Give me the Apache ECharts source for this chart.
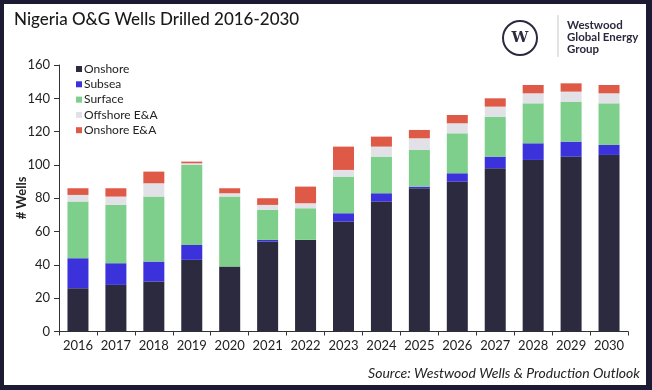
<!DOCTYPE html>
<html>
<head>
<meta charset="utf-8">
<script src="https://cdn.jsdelivr.net/npm/echarts@6/dist/echarts.min.js"></script>
<style>
html,body{margin:0;padding:0;background:#1d1a33;}
#chart{width:652px;height:390px;}
</style>
</head>
<body>
<div id="chart"></div>
<script>
const years = ['2016','2017','2018','2019','2020','2021','2022','2023','2024','2025','2026','2027','2028','2029','2030'];
const onshore    = [26, 28, 30, 43, 39, 54, 55, 66, 78, 86, 90, 98, 103, 105, 106];
const subsea     = [18, 13, 12,  9,  0,  1,  0,  5,  5,  1,  5,  7,  10,   9,   6];
const surface    = [34, 35, 39, 48, 42, 18, 19, 22, 22, 22, 24, 24,  24,  24,  25];
const offshoreEA = [ 4,  5,  8,  1,  2,  3,  3,  4,  6,  7,  6,  6,   6,   6,   6];
const onshoreEA  = [ 4,  5,  7,  1,  3,  4, 10, 14,  6,  5,  5,  5,   5,   5,   5];
const yTicks = [0, 20, 40, 60, 80, 100, 120, 140, 160];

const seriesDefs = [
  {name:'Onshore', data:onshore, color:'#2b2a3f'},
  {name:'Subsea', data:subsea, color:'#3c32dc'},
  {name:'Surface', data:surface, color:'#7ecf8b'},
  {name:'Offshore E&A', data:offshoreEA, color:'#e2e1e7'},
  {name:'Onshore E&A', data:onshoreEA, color:'#df5a46'}
];

const FONT = 'Lato';
const chart = echarts.init(document.getElementById('chart'), null, {renderer:'canvas'});
chart.setOption({
  backgroundColor: 'transparent',
  animation: false,
  textStyle: {fontFamily: FONT},
  graphic: [
    {type:'rect', z:-100, shape:{x:4, y:4, width:642, height:381}, style:{fill:'#ffffff'}},
    {type:'text', left:14, top:11, style:{text:'Nigeria O&G Wells Drilled 2016-2030', font:'500 17px Lato', fill:'#1a1a1a'}},
    {type:'circle', shape:{cx:520, cy:38, r:17}, style:{fill:'#fff', stroke:'#2b2a3f', lineWidth:2}},
    {type:'text', x:520, y:38, style:{text:'W', font:'bold 15px "DejaVu Serif"', fill:'#2b2a3f', align:'center', verticalAlign:'middle'}},
    {type:'line', shape:{x1:558, y1:15, x2:558, y2:57}, style:{stroke:'#c8c8cc', lineWidth:1}},
    {type:'text', x:567, y:19, style:{text:'Westwood\nGlobal Energy\nGroup', font:'bold 11.5px Lato', lineHeight:12, fill:'#2b2a3f'}},
    {type:'text', right:12, top:366, style:{text:'Source: Westwood Wells & Production Outlook', font:'italic 14px Lato', fill:'#222', align:'right'}},
    {type:'text', x:22, y:198, rotation:Math.PI/2, style:{text:'# Wells', font:'bold 13px Lato', fill:'#222', align:'center', verticalAlign:'middle'}}
  ],
  legend: {
    orient:'vertical', left:71, top:57,
    itemWidth:6, itemHeight:6, itemGap:1.3,
    icon:'rect',
    textStyle:{fontSize:12, color:'#222', fontFamily:FONT, lineHeight:14, padding:[0,0,0,-3]},
    data: seriesDefs.map(s => s.name)
  },
  grid: {left:59, top:65, right:24, bottom:58.5, containLabel:false},
  xAxis: {
    type:'category', data:years,
    axisLine:{show:true, lineStyle:{color:'#333', width:1}},
    axisTick:{show:true, length:4, alignWithLabel:false, interval:0, lineStyle:{color:'#333'}},
    axisLabel:{fontSize:13, color:'#222', margin:8, interval:0, fontFamily:FONT}
  },
  yAxis: {
    type:'value', min:yTicks[0], max:yTicks[yTicks.length-1], interval:20,
    axisLine:{show:true, lineStyle:{color:'#333', width:1}},
    axisTick:{show:true, length:5, lineStyle:{color:'#333'}},
    axisLabel:{fontSize:13, color:'#222', margin:9, fontFamily:FONT},
    splitLine:{show:false}
  },
  series: seriesDefs.map(s => ({
    name:s.name, type:'bar', stack:'total', data:s.data, barWidth:21,
    itemStyle:{color:s.color}
  }))
});
</script>
</body>
</html>
